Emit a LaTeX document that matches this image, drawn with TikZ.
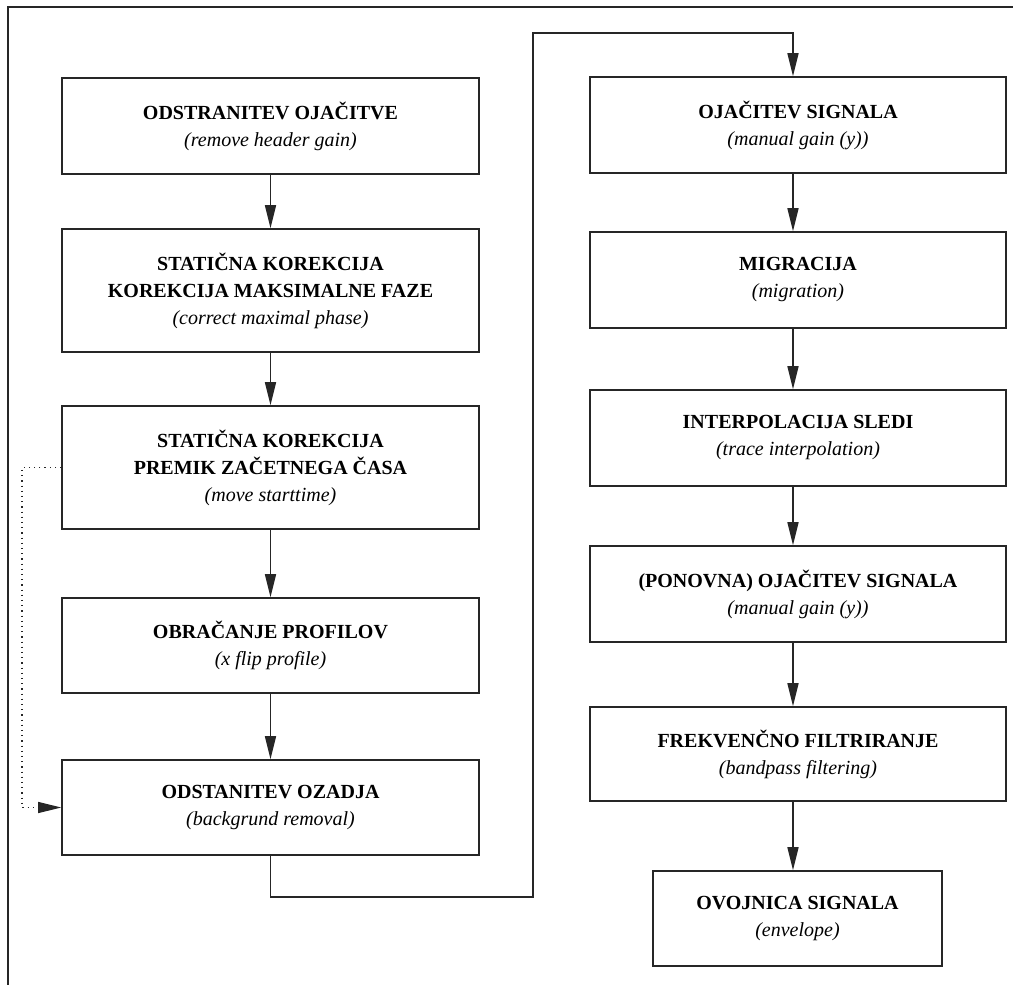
\documentclass[tikz,border=0pt]{standalone}
\usepackage{fontspec}
\setmainfont{Liberation Serif}
\usetikzlibrary{arrows.meta}

\begin{document}
\begin{tikzpicture}[x=0.5pt,y=-0.5pt,line width=0.8pt,draw=black!85,
  font=\fontsize{10}{13.5}\selectfont,
  stepbox/.style={draw,align=center,inner sep=0pt,minimum height=#1*0.5pt},
  lbox/.style={stepbox=#1,minimum width=208.5pt},
  rbox/.style={stepbox=#1,minimum width=208pt},
  flow/.style={-{Triangle[length=11.5pt,width=5.5pt]}}]
\newcommand{\steptext}[2]{\textbf{#1}\\\textit{(#2)}}
\useasboundingbox (0,0) rectangle (1013,985);
% page frame
\draw (8,985) -- (8,7) -- (1013,7);
% left column
\node[lbox=96]  (l1) at (270.5,126)   {\steptext{ODSTRANITEV OJAČITVE}{remove header gain}};
\node[lbox=123] (l2) at (270.5,290.5) {\textbf{STATIČNA KOREKCIJA}\\\steptext{KOREKCIJA MAKSIMALNE FAZE}{correct maximal phase}};
\node[lbox=123] (l3) at (270.5,467.5) {\textbf{STATIČNA KOREKCIJA}\\\steptext{PREMIK ZAČETNEGA ČASA}{move starttime}};
\node[lbox=95]  (l4) at (270.5,645.5) {\steptext{OBRAČANJE PROFILOV}{x flip profile}};
\node[lbox=95]  (l5) at (270.5,807.5) {\steptext{ODSTANITEV OZADJA}{backgrund removal}};
% right column
\coordinate (rc) at (793,0);
\node[rbox=96] (r1) at (798,125) {\steptext{OJAČITEV SIGNALA}{manual gain (y)}};
\node[rbox=96] (r2) at (798,280) {\steptext{MIGRACIJA}{migration}};
\node[rbox=96] (r3) at (798,438) {\steptext{INTERPOLACIJA SLEDI}{trace interpolation}};
\node[rbox=96] (r4) at (798,594) {\steptext{(PONOVNA) OJAČITEV SIGNALA}{manual gain (y)}};
\node[rbox=94] (r5) at (798,754) {\steptext{FREKVENČNO FILTRIRANJE}{bandpass filtering}};
\node[stepbox=95,minimum width=144.5pt] (r6) at (797.5,918.5) {\steptext{OVOJNICA SIGNALA}{envelope}};
% connectors
\foreach \a/\b in {l1/l2,l2/l3,l3/l4,l4/l5}
  \draw[flow] (\a) -- (\b);
\foreach \a/\b in {r1/r2,r2/r3,r3/r4,r4/r5,r5/r6}
  \draw[flow] (\a.south -| rc) -- (\b.north -| rc);
\coordinate (lowturn) at (533,897);
\coordinate (highturn) at (533,33);
\draw[flow] (l5.south) |- (lowturn) -- (highturn) -| (r1.north -| rc);
\coordinate (dotx) at (22,0);
\draw[flow,dotted,line width=0.6pt] (l3.west) -- (l3.west -| dotx) |- (l5.west);
\end{tikzpicture}
\end{document}
